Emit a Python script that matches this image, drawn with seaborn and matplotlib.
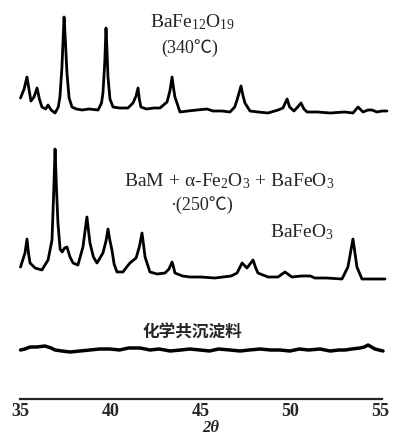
import numpy as np
import pandas as pd
import matplotlib
matplotlib.use("Agg")
import matplotlib.pyplot as plt
import seaborn as sns

# ---------------- data ----------------
two_theta_340 = [35.00, 35.20, 35.36, 35.45, 35.58, 35.75, 35.92, 36.05, 36.19, 36.40, 36.53, 36.70,
                 36.92, 37.10, 37.19, 37.30, 37.42, 37.50, 37.58, 37.70, 37.86, 38.10, 38.42, 38.80,
                 39.31, 39.50, 39.58, 39.68, 39.75, 39.80, 39.86, 39.97, 40.14, 40.50, 40.97, 41.25,
                 41.42, 41.53, 41.60, 41.69, 42.00, 42.40, 42.75, 43.14, 43.30, 43.42, 43.50, 43.58,
                 43.86, 44.30, 44.80, 45.36, 45.70, 46.20, 46.64, 46.90, 47.03, 47.25, 47.35, 47.47,
                 47.75, 48.20, 48.75, 49.31, 49.58, 49.81, 49.95, 50.19, 50.40, 50.58, 50.75, 50.92,
                 51.50, 52.20, 53.00, 53.47, 53.75, 54.03, 54.30, 54.53, 54.80, 55.08, 55.36]
intensity_340 = [15, 24, 36, 26, 12, 16, 25, 14, 6, 4, 8, 3,
                 0, 6, 16, 45, 96, 70, 40, 15, 6, 4, 3, 4,
                 3, 10, 20, 50, 85, 65, 36, 14, 6, 5, 5, 10,
                 17, 25, 14, 6, 4, 5, 5, 11, 22, 36, 25, 16,
                 1, 2, 3, 4, 2, 2, 1, 6, 13, 27, 18, 10,
                 2, 1, 0, 3, 5, 14, 6, 2, 6, 10, 4, 1,
                 1, 0, 1, 0, 6, 1, 3, 3, 1, 2, 2]

two_theta_250 = [35.00, 35.25, 35.36, 35.45, 35.53, 35.81, 36.19, 36.53, 36.75, 36.85, 36.92, 37.00,
                 37.08, 37.20, 37.31, 37.45, 37.58, 37.75, 37.92, 38.19, 38.47, 38.60, 38.69, 38.78,
                 38.86, 39.05, 39.25, 39.58, 39.75, 39.86, 39.95, 40.08, 40.20, 40.36, 40.69, 40.90,
                 41.08, 41.42, 41.60, 41.75, 41.83, 41.92, 42.19, 42.60, 43.03, 43.25, 43.42, 43.50,
                 43.58, 44.00, 44.42, 45.00, 45.80, 46.25, 46.70, 47.03, 47.31, 47.58, 47.92, 48.05,
                 48.19, 48.75, 49.31, 49.69, 50.08, 50.60, 51.10, 51.36, 52.00, 52.86, 53.19, 53.35,
                 53.47, 53.55, 53.69, 53.97, 54.50, 55.25]
intensity_250 = [12, 26, 40, 25, 16, 11, 9, 19, 39, 90, 130, 90,
                 56, 30, 27, 31, 32, 22, 16, 14, 32, 50, 62, 48,
                 36, 22, 16, 26, 38, 50, 40, 29, 15, 7, 7, 12,
                 16, 21, 32, 46, 35, 22, 7, 5, 6, 10, 17, 12,
                 6, 3, 2, 2, 1, 2, 3, 6, 16, 11, 19, 12,
                 6, 2, 2, 7, 2, 3, 3, 1, 1, 0, 12, 28,
                 40, 30, 12, 0, 0, 0]

two_theta_cop = [35.00, 35.25, 35.53, 35.90, 36.36, 36.70, 36.92, 37.30, 37.75, 38.30, 38.86, 39.40,
                 39.97, 40.50, 41.00, 41.64, 42.20, 42.70, 43.31, 43.90, 44.40, 44.97, 45.50, 46.00,
                 46.64, 47.20, 47.70, 48.31, 48.90, 49.40, 49.97, 50.50, 51.00, 51.64, 52.20, 52.70,
                 53.03, 53.40, 53.86, 54.10, 54.31, 54.50, 54.69, 55.14]
intensity_cop = [0, 1, 3, 3, 4, 2, 0, -1, -2, -1, 0, 1,
                 1, 0, 2, 2, 0, 1, -1, 0, 1, 0, -1, 1,
                 0, -1, 0, 1, 0, 0, -1, 1, 0, 1, -1, 0,
                 0, 1, 2, 3, 5, 3, 1, -1]

x_ticks = [35, 40, 45, 50, 55]
x_tick_labels = ["35", "40", "45", "50", "55"]
x_label = "2θ"

# ---------------- style ----------------
sns.set_style("white")
plt.rcParams["font.family"] = ["Liberation Serif", "Noto Sans CJK SC", "DejaVu Serif"]
plt.rcParams["mathtext.fontset"] = "custom"
plt.rcParams["mathtext.rm"] = "Liberation Serif"
plt.rcParams["mathtext.it"] = "Liberation Serif:italic"

W, H = 393, 441
fig = plt.figure(figsize=(W / 100, H / 100), dpi=100)
ax = fig.add_axes([0, 0, 1, 1])

px_per_deg = 18.0
x0_px = 20.5
ax.set_xlim(35 - x0_px / px_per_deg, 35 + (W - x0_px) / px_per_deg)
ax.set_ylim(-42, 399)

offsets = {"340": 286, "250": 120, "cop": 49}
traces = [
    ("340", two_theta_340, intensity_340, 2.0),
    ("250", two_theta_250, intensity_250, 2.0),
    ("cop", two_theta_cop, intensity_cop, 2.5),
]
for key, xs, ys, lw in traces:
    df = pd.DataFrame({"two_theta": xs, "intensity": np.array(ys, dtype=float) + offsets[key]})
    sns.lineplot(data=df, x="two_theta", y="intensity", ax=ax, color="black",
                 linewidth=lw, sort=False, estimator=None, solid_joinstyle="round")

# ---------------- axis ----------------
for s in ["top", "right", "left"]:
    ax.spines[s].set_visible(False)
ax.spines["bottom"].set_position(("data", 0))
ax.spines["bottom"].set_bounds(35, 55.1)
ax.spines["bottom"].set_linewidth(1.6)
ax.set_yticks([])
ax.set_xticks(x_ticks)
ax.set_xticklabels(x_tick_labels, fontsize=13, fontweight="bold")
ax.tick_params(axis="x", direction="in", length=4, width=1.4, pad=3, color="black")
ax.set_xlabel("")
ax.set_ylabel("")
ax.text(45.55, -29, x_label, ha="center", va="center", fontsize=12,
        fontstyle="italic", fontweight="bold")

# ---------------- annotations ----------------
ax.text(44.53, 377, "BaFe$_{12}$O$_{19}$", ha="center", va="center", fontsize=14)
ax.text(44.42, 351, "(340℃)", ha="center", va="center", fontsize=13)
ax.text(46.58, 218, "BaM$\\,+\\,$α-Fe$_2$O$_3$$\\,+\\,$BaFeO$_3$", ha="center", va="center", fontsize=14)
ax.text(45.08, 194, "·(250℃)", ha="center", va="center", fontsize=13)
ax.text(50.64, 167, "BaFeO$_3$", ha="center", va="center", fontsize=14)
ax.text(44.53, 66, "化学共沉淀料", ha="center", va="center", fontsize=12,
        fontweight="bold", family=["Noto Sans CJK SC", "DejaVu Sans"])

fig.savefig("out.png", dpi=100, facecolor="white")
